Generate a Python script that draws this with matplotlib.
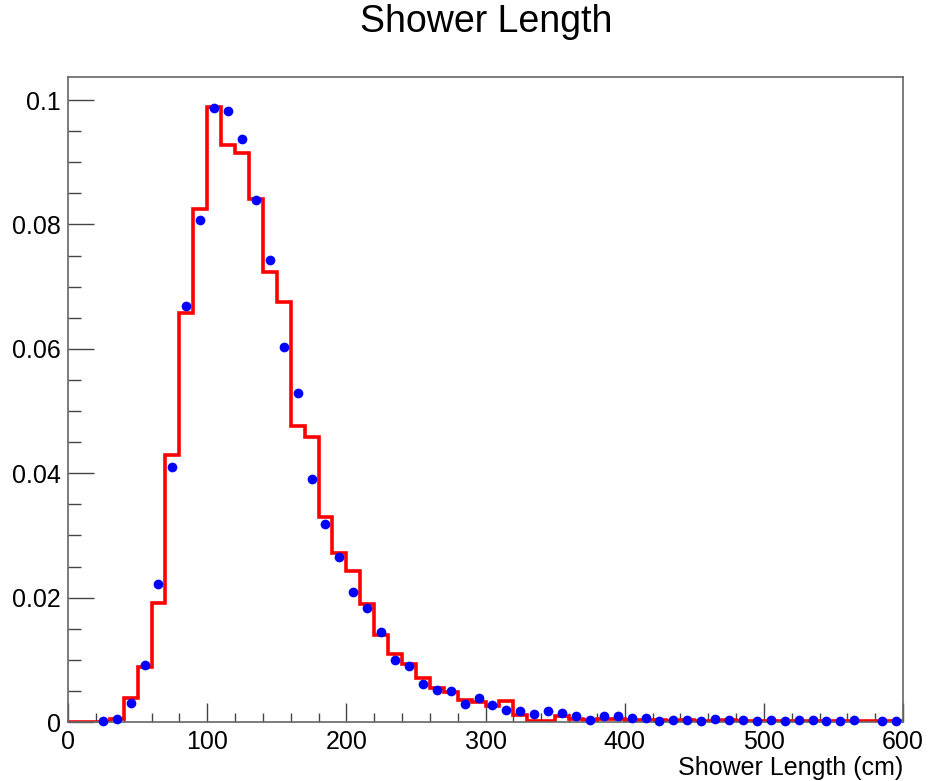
import numpy as np
import matplotlib
matplotlib.use('Agg')
from matplotlib import pyplot as plt
from matplotlib.ticker import MultipleLocator

plt.rcParams['font.family'] = ['Liberation Sans', 'DejaVu Sans']

# bin edges 0..600, 10 cm wide
bin_edges = np.arange(0, 601, 10)
bin_centers = bin_edges[:-1] + 5

# red histogram (reference)
hist_vals = [0, 0, 0, 0.0005, 0.0038, 0.0088, 0.0192, 0.0430, 0.0658, 0.0825,
             0.0989, 0.0927, 0.0915, 0.0841, 0.0723, 0.0675, 0.0476, 0.0459, 0.0329, 0.0271,
             0.0243, 0.0190, 0.0140, 0.0109, 0.0094, 0.0071, 0.0054, 0.0049, 0.0035, 0.0033,
             0.0025, 0.0034, 0.0012, 0.0002, 0.0002, 0.0009, 0.0005, 0.0004, 0.0005, 0.0005,
             0.0004, 0.0004, 0.0003, 0.0002, 0.0003, 0.0002, 0.0002, 0.0003, 0.0002, 0.0002,
             0.0002, 0.0002, 0.0002, 0.0002, 0.0002, 0.0002, 0.0002, 0.0002, 0.0002, 0.0002]

# blue points (data), nan = empty bin
point_vals = [np.nan, np.nan, 0.0001, 0.0005, 0.0030, 0.0092, 0.0222, 0.0410, 0.0669, 0.0807,
              0.0987, 0.0983, 0.0938, 0.0839, 0.0743, 0.0603, 0.0529, 0.0390, 0.0319, 0.0266,
              0.0209, 0.0184, 0.0144, 0.0100, 0.0090, 0.0061, 0.0052, 0.0050, 0.0029, 0.0038,
              0.0028, 0.0020, 0.0018, 0.0013, 0.0018, 0.0014, 0.0010, 0.0003, 0.0010, 0.0009,
              0.0006, 0.0006, 0.0002, 0.0003, 0.0003, 0.0002, 0.0005, 0.0003, 0.0003, 0.0002,
              0.0003, 0.0002, 0.0003, 0.0003, 0.0002, 0.0002, 0.0003, np.nan, 0.0002, 0.0002]

fig = plt.figure(figsize=(9.42, 7.81), dpi=100)
ax = fig.add_axes([0.0722, 0.0755, 0.8864, 0.8259])

ax.stairs(hist_vals, bin_edges, color='#ff0000', linewidth=2.6, baseline=None, zorder=2)
ax.plot(bin_centers, point_vals, 'o', color='#0000ff', markersize=7, markeredgewidth=0,
        clip_on=False, zorder=3)

ax.set_xlim(0, 600)
ax.set_ylim(0, 0.1037)

ax.xaxis.set_major_locator(MultipleLocator(100))
ax.xaxis.set_minor_locator(MultipleLocator(20))
ax.yaxis.set_major_locator(MultipleLocator(0.02))
ax.yaxis.set_minor_locator(MultipleLocator(0.005))
ax.yaxis.set_major_formatter(plt.FuncFormatter(lambda v, p: '0' if v == 0 else f'{v:g}'))

for s in ax.spines.values():
    s.set_color('#666666')
    s.set_linewidth(1.2)

ax.tick_params(axis='x', which='major', direction='in', length=13.5, width=1.0, color='#444444',
               labelsize=18, pad=6)
ax.tick_params(axis='x', which='minor', direction='in', length=6.7, width=1.0, color='#444444')
ax.tick_params(axis='y', which='major', direction='in', length=18.7, width=1.0, color='#444444',
               labelsize=18, pad=5)
ax.tick_params(axis='y', which='minor', direction='in', length=9.4, width=1.0, color='#444444')

ax.set_xlabel('Shower Length (cm)', fontsize=18, loc='right', labelpad=1)
fig.text(0.516, 0.972, 'Shower Length', fontsize=27, ha='center', va='center')

fig.savefig('out.png', dpi=100)
